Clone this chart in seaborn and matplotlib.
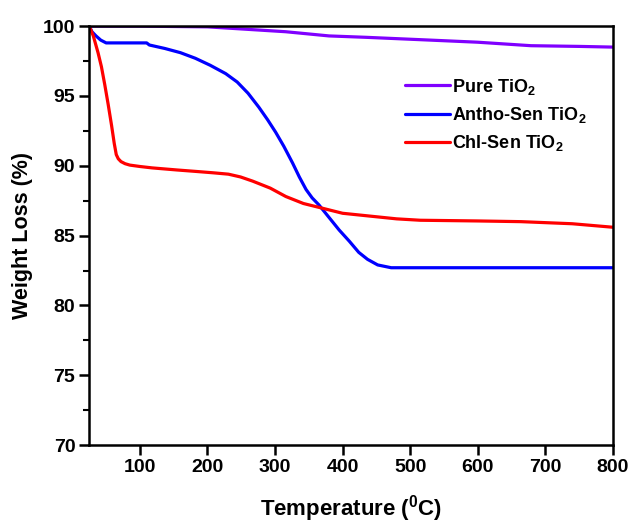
import numpy as np
import pandas as pd
import matplotlib
matplotlib.use("Agg")
import matplotlib.pyplot as plt
from matplotlib.ticker import MultipleLocator
import seaborn as sns

# TGA curves: temperature (°C) and remaining weight (%)
pure_temp = [25, 100, 200, 250, 316, 380, 435, 530, 600, 679, 750, 800]
pure_weight = [100, 100, 99.95, 99.8, 99.6, 99.3, 99.2, 99.0, 98.85, 98.6, 98.55, 98.5]

antho_temp = [25, 29, 35, 42, 50, 80, 110, 114, 137, 160, 182, 204, 227, 244,
              260, 276, 289, 301, 313, 326, 336, 346, 355, 365, 380, 395, 410,
              424, 437, 452, 472, 800]
antho_weight = [100, 99.6, 99.3, 99.0, 98.8, 98.8, 98.8, 98.65, 98.4, 98.1, 97.7,
                97.2, 96.6, 96.0, 95.2, 94.2, 93.3, 92.4, 91.4, 90.2, 89.2, 88.3,
                87.7, 87.2, 86.3, 85.4, 84.6, 83.8, 83.3, 82.9, 82.7, 82.7]

chl_temp = [25, 31, 38, 43, 48, 53, 58, 62, 65, 68, 72, 78, 85, 100, 118, 155,
            182, 208, 231, 249, 267, 293, 316, 342, 367, 400, 440, 480, 515,
            600, 664, 740, 800]
chl_weight = [100, 99.3, 98.1, 97.1, 95.8, 94.4, 92.9, 91.6, 90.8, 90.5, 90.3,
              90.15, 90.05, 89.95, 89.85, 89.7, 89.6, 89.5, 89.4, 89.2, 88.9,
              88.4, 87.8, 87.3, 87.0, 86.6, 86.4, 86.2, 86.1, 86.05, 86.0,
              85.85, 85.6]

labels = ["Pure TiO$_2$", "Antho-Sen TiO$_2$", "Chl-Sen TiO$_2$"]
colors = ["#8000ff", "#0000ff", "#ff0000"]

df = pd.concat([
    pd.DataFrame({"T": pure_temp, "W": pure_weight, "sample": labels[0]}),
    pd.DataFrame({"T": antho_temp, "W": antho_weight, "sample": labels[1]}),
    pd.DataFrame({"T": chl_temp, "W": chl_weight, "sample": labels[2]}),
], ignore_index=True)

sns.set_theme(style="white")
plt.rcParams["font.family"] = ["Liberation Sans", "DejaVu Sans"]
plt.rcParams["font.weight"] = "bold"
plt.rcParams["text.color"] = "black"
plt.rcParams["axes.labelcolor"] = "black"
plt.rcParams["mathtext.fontset"] = "custom"
plt.rcParams["mathtext.rm"] = "Liberation Sans:bold"
plt.rcParams["mathtext.bf"] = "Liberation Sans:bold"
plt.rcParams["mathtext.default"] = "bf"

fig = plt.figure(figsize=(6.33, 5.23), dpi=100)
ax = fig.add_axes([0.141, 0.149, 0.827, 0.801])

sns.lineplot(data=df, x="T", y="W", hue="sample", palette=colors, sort=False,
             estimator=None, linewidth=2.3, ax=ax)

ax.set_xlim(25, 800)
ax.set_ylim(70, 100)
ax.xaxis.set_major_locator(MultipleLocator(100))
ax.yaxis.set_major_locator(MultipleLocator(5))
ax.yaxis.set_minor_locator(MultipleLocator(2.5))
ax.tick_params(axis="both", which="major", direction="out", length=7, width=1.8,
               labelsize=14, colors="black", labelcolor="black",
               bottom=True, left=True, pad=3)
ax.tick_params(axis="y", which="minor", direction="out", length=4, width=1.5,
               colors="black", left=True)
for lab in ax.get_xticklabels() + ax.get_yticklabels():
    lab.set_fontweight("bold")
for sp in ax.spines.values():
    sp.set_linewidth(1.8)
    sp.set_color("black")

ax.set_xlabel("Temperature ($^{0}$C)", fontsize=16, fontweight="bold", labelpad=12)
ax.set_ylabel("Weight Loss (%)", fontsize=15.5, fontweight="bold", labelpad=7)

leg = ax.legend(loc="upper left", bbox_to_anchor=(0.572, 0.918), frameon=False,
                handlelength=2.5, handletextpad=0.1, labelspacing=0.45,
                prop={"size": 13, "weight": "bold"})

fig.savefig("out.png", dpi=100)
